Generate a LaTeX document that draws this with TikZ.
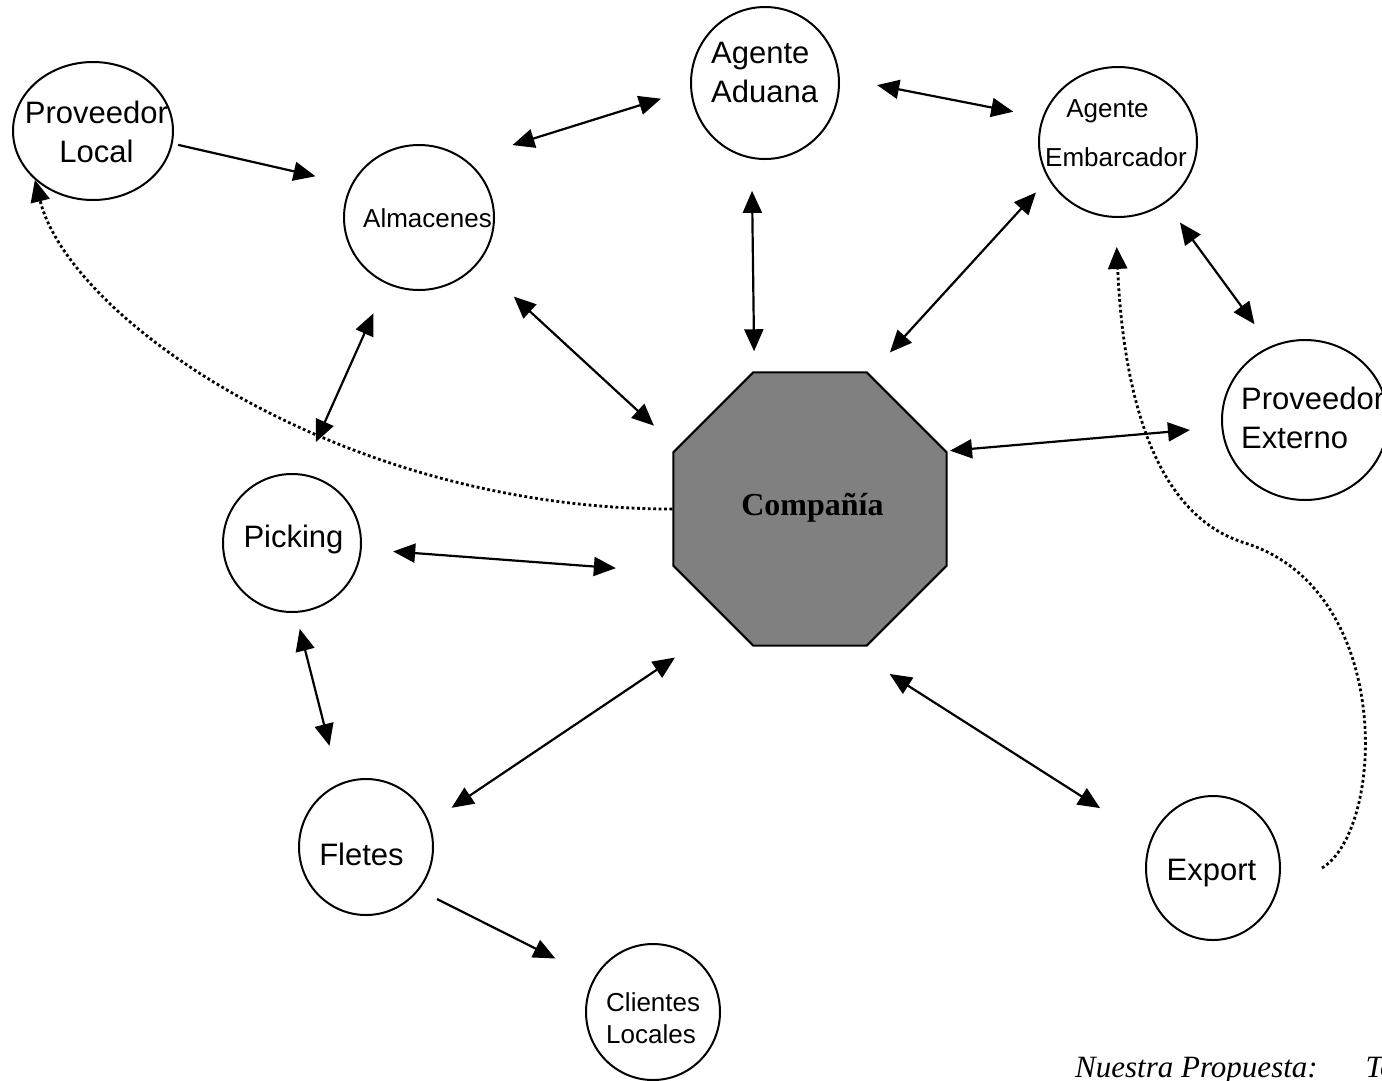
\documentclass[tikz,border=0pt]{standalone}
\usepackage{fontspec}
\setmainfont{Liberation Sans}
\newfontfamily\timesfont{Liberation Serif}
\usetikzlibrary{arrows.meta,shapes.geometric}
\tikzset{
  >={Triangle[length=22pt,width=19pt]},
  bubble/.style={draw, ellipse, line width=2pt, inner sep=0pt},
  hub/.style={draw, regular polygon, regular polygon sides=8, minimum size=296pt,
              inner sep=0pt, fill=gray, line width=2pt},
  big/.style={inner sep=0pt, font=\fontsize{31}{39}\selectfont},
  small/.style={inner sep=0pt, font=\fontsize{26}{32}\selectfont},
  onehead/.style={line width=2.2pt, ->},
  twohead/.style={line width=2.2pt, <->},
  dotlink/.style={line width=2.8pt, dash pattern=on 2.8pt off 2.6pt, ->},
}
\begin{document}
\begin{tikzpicture}[x=1pt,y=-1pt]
\fill[white] (0,0) rectangle (1382,1080);
\useasboundingbox (0,0) rectangle (1382,1080);

% actors
\node[bubble, minimum width=160pt, minimum height=138pt] (pl)  at (93,131)    {};
\node[bubble, minimum width=150pt, minimum height=145pt] (alm) at (419,217.5) {};
\node[bubble, minimum width=148pt, minimum height=152pt] (adu) at (765,83)    {};
\node[bubble, minimum width=158pt, minimum height=150pt] (emb) at (1118,142)  {};
\node[bubble, minimum width=166pt, minimum height=160pt] (pe)  at (1305,420)  {};
\node[bubble, minimum width=138pt, minimum height=138pt] (pk)  at (292,543)   {};
\node[bubble, minimum width=134pt, minimum height=136pt] (fl)  at (366,847)   {};
\node[bubble, minimum width=134pt, minimum height=136pt] (cl)  at (653,1012)  {};
\node[bubble, minimum width=134pt, minimum height=144pt] (ex)  at (1213,868)  {};
\node[hub] (comp) at (810,509) {};

% labels (multi-line labels are placed by the baseline of their last line)
\node[big, align=center, anchor=base] (pl-t) at (96.5,162) {Proveedor\\Local};
\node[small, anchor=base west] (alm-t) at (363,227) {Almacenes};
\node[big, align=left, anchor=base west] (adu-t) at (711,102) {Agente\\Aduana};
\node[small, anchor=base] (emb-t1) at (1107.5,117) {Agente};
\node[small, anchor=base] (emb-t2) at (1116,166) {Embarcador};
\node[big, align=left, anchor=base west] (pe-t) at (1241,448) {Proveedor\\Externo};
\node[big, anchor=base] (pk-t) at (293.5,547) {Picking};
\node[big, anchor=base] (fl-t) at (361.5,865) {Fletes};
\node[big, anchor=base] (ex-t) at (1211.5,880) {Export};
\node[small, align=left, anchor=base west] (cl-t) at (606,1043) {Clientes\\Locales};
\node[inner sep=0pt, anchor=base, font=\timesfont\bfseries\fontsize{32}{38}\selectfont]
  (comp-t) at (812.5,515) {Compañía};
\node[inner sep=0pt, anchor=base west, font=\timesfont\itshape\fontsize{31}{37}\selectfont]
  (note) at (1075,1077) {Nuestra Propuesta:\hspace{48pt}To};

% flows
\draw[onehead, shorten <=5.6pt, shorten >=36.6pt] (pl.-9.3) -- (alm.154.4);
\draw[twohead, shorten <=48.8pt, shorten >=30.7pt] (alm.51.9) -- (adu.185.5);
\draw[twohead, shorten <=38pt, shorten >=29.6pt] (adu.4.3) -- (emb.162.9);
\draw[twohead, shorten <=32.1pt, shorten >=20pt] (adu.260.2) -- (comp.112.9);
\draw[twohead, shorten <=48.6pt, shorten >=31.6pt] (alm.-38.8) -- (comp.155.5);
\draw[twohead, shorten <=29.5pt, shorten >=18.1pt] (comp.66.3) -- (emb.208.5);
\draw[twohead, shorten <=24.1pt, shorten >=27.2pt] (emb.-52.3) -- (pe.115.6);
\draw[twohead, shorten <=3.3pt, shorten >=31.5pt] (comp.23.2) -- (pe.185.9);
\draw[twohead, shorten <=32.1pt, shorten >=34.6pt] (alm.244.2) -- (pk.82.7);
\draw[twohead, shorten <=31.5pt, shorten >=63.4pt] (pk.-5.7) -- (comp.206.1);
\draw[twohead, shorten <=16.5pt, shorten >=39pt] (pk.-87.5) -- (fl.113.8);
\draw[twohead, shorten <=26.5pt, shorten >=64pt] (fl.21.1) -- (comp.234.9);
\draw[twohead, shorten <=50.6pt, shorten >=59.4pt] (comp.-75.1) -- (ex.156);
\draw[onehead, shorten <=20pt, shorten >=43.1pt] (fl.-39.6) -- (cl.150.1);

% dotted return paths
\draw[dotlink] (comp.180) .. controls (343,509) and (70,320) .. (pl.220.4);
\coordinate (exdot) at (1322,868);
\draw[dotlink, shorten >=29pt] (exdot) .. controls (1385,830) and (1395,590) .. (1245,543)
  .. controls (1170,520) and (1125,430) .. (emb.268.9);
\end{tikzpicture}
\end{document}
